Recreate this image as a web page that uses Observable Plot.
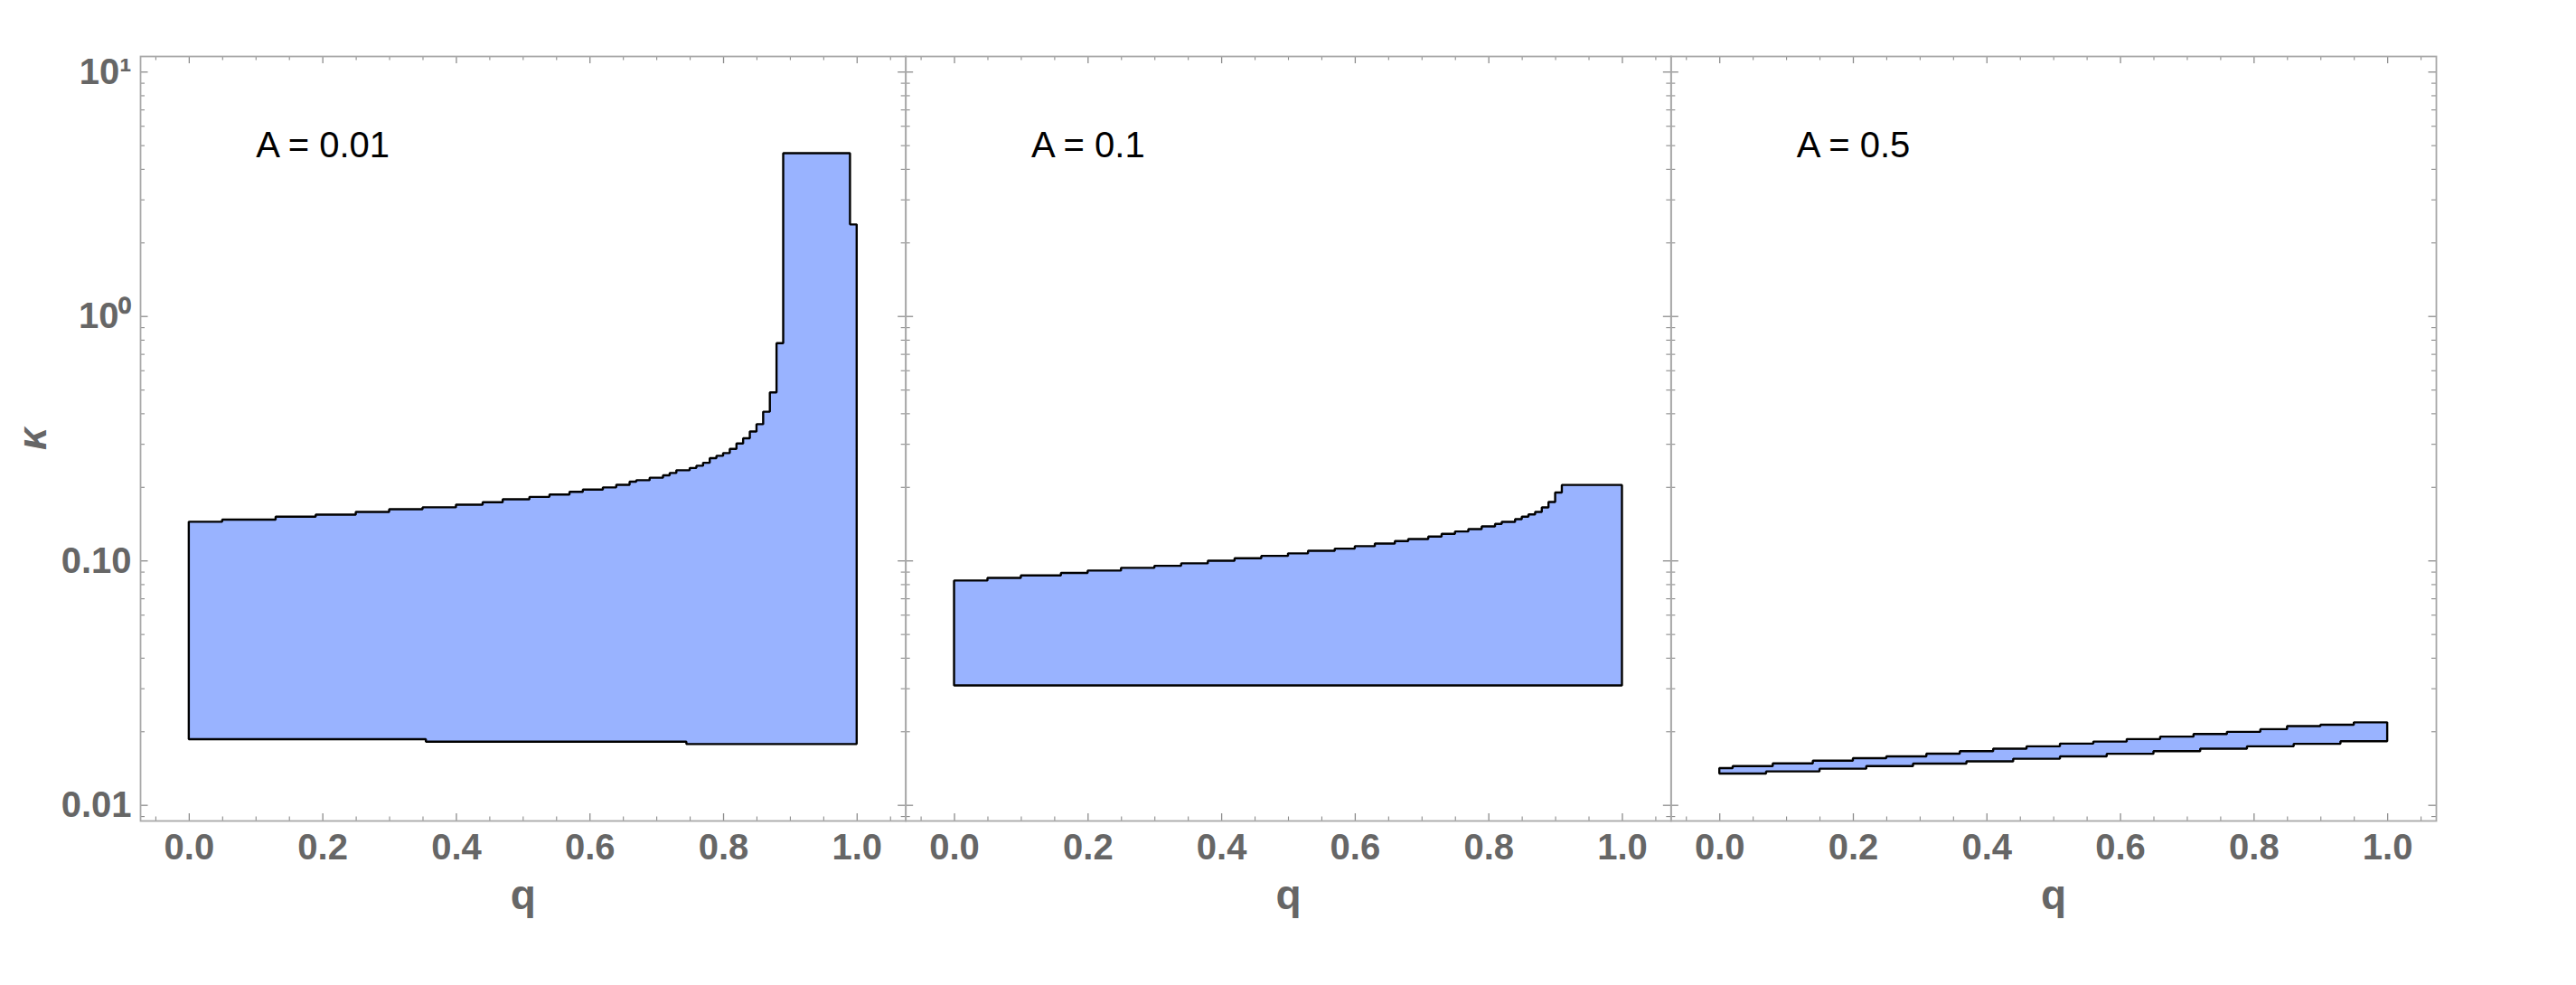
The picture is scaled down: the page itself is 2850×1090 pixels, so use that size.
<!DOCTYPE html>
<html>
<head>
<meta charset="utf-8">
<script src="https://cdn.jsdelivr.net/npm/d3@7"></script>
<script src="https://cdn.jsdelivr.net/npm/@observablehq/plot@0.6"></script>
<style>
  html, body { margin: 0; padding: 0; background: #fff; }
  #chart svg { display: block; }
</style>
</head>
<body>
<div id="chart"></div>
<script>
// ---- data ----
const A_VALUES = ["0.01", "0.1", "0.5"];

// Panel A = 0.01 : step boundaries (q where a new step starts, kappa value)
const p1UpperQ = [0.00, 0.05, 0.13, 0.19, 0.25, 0.30, 0.35, 0.40, 0.44, 0.47, 0.51, 0.54, 0.57, 0.59, 0.62, 0.64, 0.66, 0.67, 0.69, 0.71, 0.72, 0.73, 0.75, 0.76, 0.77, 0.78, 0.79, 0.80, 0.81, 0.82, 0.83, 0.84, 0.85, 0.86, 0.87, 0.88, 0.89, 0.99];
const p1UpperK = [0.144, 0.147, 0.151, 0.154, 0.158, 0.162, 0.165, 0.169, 0.173, 0.178, 0.182, 0.186, 0.191, 0.195, 0.199, 0.204, 0.210, 0.213, 0.218, 0.223, 0.228, 0.234, 0.239, 0.244, 0.251, 0.262, 0.268, 0.275, 0.286, 0.301, 0.316, 0.337, 0.361, 0.406, 0.487, 0.774, 4.64, 2.37];
const p1LowerQ = [0.00, 0.355, 0.745];
const p1LowerK = [0.01856, 0.01814, 0.01774];
const p1End = 1.0;

// Panel A = 0.1
const p2UpperQ = [0.00, 0.05, 0.10, 0.16, 0.20, 0.25, 0.30, 0.34, 0.38, 0.42, 0.46, 0.50, 0.53, 0.57, 0.60, 0.63, 0.66, 0.68, 0.71, 0.73, 0.75, 0.77, 0.79, 0.81, 0.82, 0.84, 0.85, 0.86, 0.87, 0.88, 0.89, 0.90, 0.91];
const p2UpperK = [0.0828, 0.0849, 0.0869, 0.0889, 0.0909, 0.0933, 0.0951, 0.0973, 0.0998, 0.1021, 0.1044, 0.1069, 0.1096, 0.1118, 0.1144, 0.1173, 0.1200, 0.1224, 0.1253, 0.1285, 0.1314, 0.1344, 0.1379, 0.1411, 0.1438, 0.1476, 0.1510, 0.1544, 0.1580, 0.1648, 0.1735, 0.1898, 0.2037];
const p2LowerQ = [0.00];
const p2LowerK = [0.0308];
const p2End = 1.0;

// Panel A = 0.5
const p3UpperQ = [0.00, 0.02, 0.08, 0.14, 0.20, 0.25, 0.31, 0.36, 0.41, 0.46, 0.51, 0.56, 0.61, 0.66, 0.71, 0.76, 0.81, 0.85, 0.90, 0.95];
const p3UpperK = [0.01414, 0.01442, 0.01479, 0.01517, 0.01552, 0.01580, 0.01621, 0.01659, 0.01697, 0.01737, 0.01782, 0.01816, 0.01859, 0.01902, 0.01951, 0.01990, 0.02041, 0.02100, 0.02128, 0.02176];
const p3LowerQ = [0.00, 0.07, 0.15, 0.22, 0.29, 0.37, 0.44, 0.51, 0.58, 0.65, 0.72, 0.79, 0.86, 0.93];
const p3LowerK = [0.01344, 0.01371, 0.01406, 0.01442, 0.01475, 0.01508, 0.01545, 0.01580, 0.01618, 0.01659, 0.01697, 0.01737, 0.01778, 0.01822];
const p3End = 1.0;

// Ticks
const xMajorTicks = [0, 0.2, 0.4, 0.6, 0.8, 1.0];
const xMinorTicks = [-0.05, 0.05, 0.1, 0.15, 0.25, 0.3, 0.35, 0.45, 0.5, 0.55, 0.65, 0.7, 0.75, 0.85, 0.9, 0.95, 1.05];
const yMajorTicks = [0.01, 0.1, 1, 10];
const yMajorLabels = ["0.01", "0.10", "10\u2070", "10\u00B9"];
const yMinorTicks = [0.009, 0.02, 0.03, 0.04, 0.05, 0.06, 0.07, 0.08, 0.09, 0.2, 0.3, 0.4, 0.5, 0.6, 0.7, 0.8, 0.9, 2, 3, 4, 5, 6, 7, 8, 9];
const xLabel = "q";
const yLabel = "\u03BA";
const labelPos = {q: 0.2, k: 5.0};

// ---- build table for the area mark ----
function stepValue(qs, ks, q) {
  let v = ks[0];
  for (let i = 0; i < qs.length; i++) if (qs[i] <= q + 1e-9) v = ks[i];
  return v;
}
function panelRows(A, uq, uk, lq, lk, end) {
  const qs = Array.from(new Set([...uq, ...lq, end])).sort((a, b) => a - b);
  return qs.map(q => ({A, q, hi: stepValue(uq, uk, q), lo: stepValue(lq, lk, q)}));
}
const regionRows = [
  ...panelRows(A_VALUES[0], p1UpperQ, p1UpperK, p1LowerQ, p1LowerK, p1End),
  ...panelRows(A_VALUES[1], p2UpperQ, p2UpperK, p2LowerQ, p2LowerK, p2End),
  ...panelRows(A_VALUES[2], p3UpperQ, p3UpperK, p3LowerQ, p3LowerK, p3End)
];

const W = 2850, H = 1090;
const mL = 155, mR = 155, mT = 62, mB = 182;
const frameH = H - mT - mB;
const facetW = (W - mL - mR) / A_VALUES.length;
const tickCol = "#8c8c8c";
const labCol = "#666666";
const font = "'Liberation Sans', Arial, Helvetica, sans-serif";

const chart = Plot.plot({
  width: W,
  height: H,
  marginLeft: mL, marginRight: mR, marginTop: mT, marginBottom: mB,
  style: {fontFamily: font, background: "#fff"},
  fx: {domain: A_VALUES, padding: 0, round: false, axis: null, label: null},
  x: {domain: [-0.0729, 1.0729], axis: null},
  y: {type: "log", domain: [0.00863, 11.58], axis: null},
  marks: [
    Plot.areaY(regionRows, {
      fx: "A", x: "q", y1: "lo", y2: "hi", curve: "step-after",
      fill: "#99b3ff", stroke: "#000", strokeWidth: 2.4, strokeLinejoin: "miter"
    }),
    // bottom & top x ticks
    Plot.ruleX(xMajorTicks, {x: d => d, stroke: tickCol, strokeWidth: 1.3, insetTop: frameH - 8}),
    Plot.ruleX(xMinorTicks, {x: d => d, stroke: tickCol, strokeWidth: 1.1, insetTop: frameH - 4.5}),
    Plot.ruleX(xMajorTicks, {x: d => d, stroke: tickCol, strokeWidth: 1.3, insetBottom: frameH - 8}),
    Plot.ruleX(xMinorTicks, {x: d => d, stroke: tickCol, strokeWidth: 1.1, insetBottom: frameH - 4.5}),
    // left & right y ticks
    Plot.ruleY(yMajorTicks, {y: d => d, stroke: tickCol, strokeWidth: 1.3, insetRight: facetW - 8.5}),
    Plot.ruleY(yMinorTicks, {y: d => d, stroke: tickCol, strokeWidth: 1.1, insetRight: facetW - 5}),
    Plot.ruleY(yMajorTicks, {y: d => d, stroke: tickCol, strokeWidth: 1.3, insetLeft: facetW - 8.5}),
    Plot.ruleY(yMinorTicks, {y: d => d, stroke: tickCol, strokeWidth: 1.1, insetLeft: facetW - 5}),
    Plot.frame({stroke: "#a8a8a8", strokeWidth: 1.8}),
    // x tick labels (every panel)
    Plot.text(xMajorTicks, {
      x: d => d, text: d => d.toFixed(1), frameAnchor: "bottom", lineAnchor: "top", dy: 14,
      fontSize: 40, fontWeight: "bold", fill: labCol
    }),
    // x axis label (every panel)
    Plot.text([xLabel], {
      text: d => d, frameAnchor: "bottom", lineAnchor: "top", dy: 65,
      fontSize: 46, fontWeight: "bold", fill: labCol
    }),
    // y tick labels (first panel only)
    Plot.text(yMajorTicks.map((v, i) => ({A: A_VALUES[0], v, t: yMajorLabels[i]})), {
      fx: "A", y: "v", text: "t", frameAnchor: "left", textAnchor: "end", lineAnchor: "middle", dx: -10,
      fontSize: 40, fontWeight: "bold", fill: labCol
    }),
    // y axis label
    Plot.text([{A: A_VALUES[0], t: yLabel}], {
      fx: "A", text: "t", frameAnchor: "left", textAnchor: "middle", lineAnchor: "middle", dx: -119, rotate: -90,
      fontSize: 44, fontWeight: "bold", fontStyle: "italic", fill: labCol
    }),
    // panel labels
    Plot.text(A_VALUES.map(A => ({A, q: labelPos.q, k: labelPos.k, t: "A = " + A})), {
      fx: "A", x: "q", y: "k", text: "t", textAnchor: "middle", lineAnchor: "middle",
      fontSize: 40, fill: "#000"
    })
  ]
});
document.getElementById("chart").appendChild(chart);
</script>
</body>
</html>
